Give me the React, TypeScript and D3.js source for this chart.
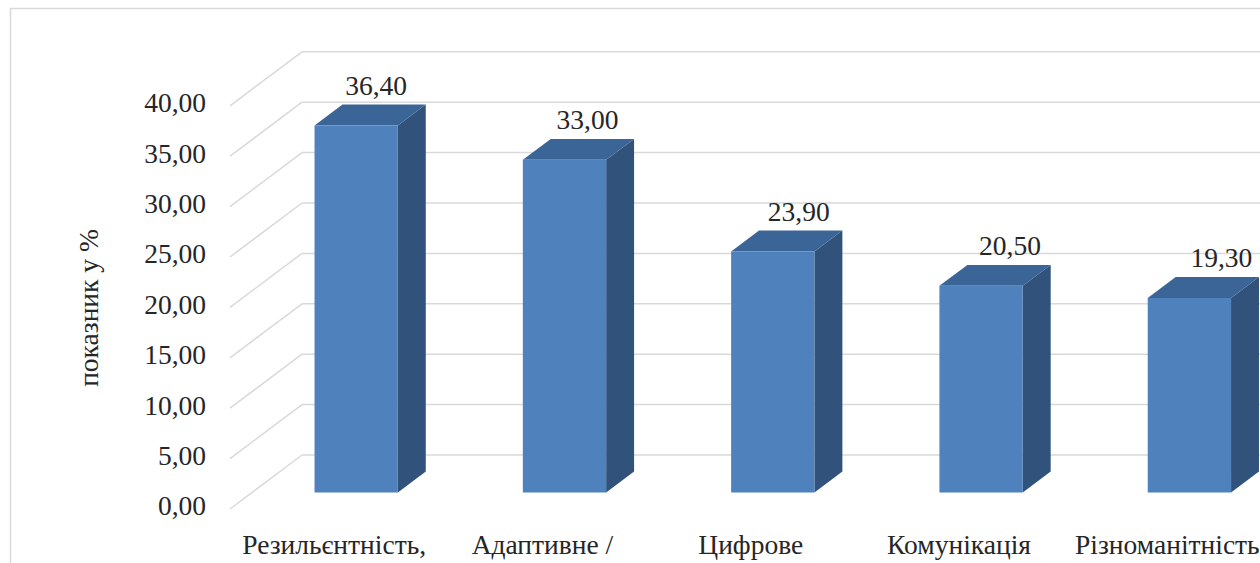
import React from "react";
import * as d3 from "d3";

const categories = [
  "Резильєнтність,",
  "Адаптивне /",
  "Цифрове",
  "Комунікація",
  "Різноманітність",
];
const values = [36.4, 33.0, 23.9, 20.5, 19.3];
const yTicks = [0, 5, 10, 15, 20, 25, 30, 35, 40];

const W = 1260;
const H = 563;
const FONT = "Liberation Serif, DejaVu Serif, serif";

// oblique 3D offset of the back wall relative to the front plane
const DX = 72;
const DY = -54;
// depth span occupied by bars (0 = front, 1 = back)
const D0 = 0.306;
const D1 = 0.694;

const fmt = (v: number) => v.toFixed(2).replace(".", ",");

const App: React.FC = () => {
  const x = d3
    .scaleBand<string>()
    .domain(categories)
    .range([230, 230 + 5 * 208.3])
    .paddingInner(0.6)
    .paddingOuter(0.3);

  const y = d3.scaleLinear().domain([0, 40]).range([509, 105.8]);

  const proj = (px: number, py: number, d: number): [number, number] => [
    px + d * DX,
    py + d * DY,
  ];
  const pts = (a: [number, number][]) => a.map((p) => p.join(",")).join(" ");

  const front = "#4f81bd";
  const top = "#3b6596";
  const side = "#30527b";
  const txt = { fontFamily: FONT, fontSize: "27.5px", fill: "#262626" };

  return (
    <svg width={W} height={H} style={{ position: "absolute", left: 0, top: 0 }}>
      <rect x={0} y={0} width={W} height={H} fill="#ffffff" />
      {/* chart area border (cropped on right and bottom) */}
      <path d={`M10.5,${H + 2} V8.5 H${W + 2}`} fill="none" stroke="#d9d9d9" strokeWidth={1.5} />

      {/* grid: side wall diagonals + back wall lines */}
      {yTicks.map((t) => {
        const fy = y(t);
        const [bx, by] = proj(230, fy, 1);
        return (
          <g key={t}>
            <line x1={230} y1={fy} x2={bx} y2={by} stroke="#d9d9d9" strokeWidth={1.5} />
            <line x1={bx} y1={by} x2={W} y2={by} stroke="#d9d9d9" strokeWidth={1.5} />
            <text x={206} y={fy} textAnchor="end" dominantBaseline="middle" style={txt}>
              {fmt(t)}
            </text>
          </g>
        );
      })}

      {/* bars */}
      {categories.map((c, i) => {
        const x0 = x(c)!;
        const x1 = x0 + x.bandwidth();
        const yt = y(values[i]);
        const yb = y(0);
        const f = [proj(x0, yt, D0), proj(x1, yt, D0), proj(x1, yb, D0), proj(x0, yb, D0)];
        const tp = [proj(x0, yt, D0), proj(x0, yt, D1), proj(x1, yt, D1), proj(x1, yt, D0)];
        const sd = [proj(x1, yt, D0), proj(x1, yt, D1), proj(x1, yb, D1), proj(x1, yb, D0)];
        const [, labY] = proj(0, yt, D1);
        const cx = x0 + x.bandwidth() / 2 + 42 + i * 3;
        return (
          <g key={c}>
            <polygon points={pts(sd)} fill={side} />
            <polygon points={pts(tp)} fill={top} />
            <polygon points={pts(f)} fill={front} />
            <text x={cx} y={labY - 10} textAnchor="middle" style={txt}>
              {fmt(values[i])}
            </text>
            <text x={x0 + x.bandwidth() / 2} y={554} textAnchor="middle" style={txt}>
              {c}
            </text>
          </g>
        );
      })}

      {/* axis title */}
      <text
        transform="translate(92,308) rotate(-90)"
        textAnchor="middle"
        dominantBaseline="middle"
        style={txt}
      >
        показник у %
      </text>
    </svg>
  );
};

export default App;
